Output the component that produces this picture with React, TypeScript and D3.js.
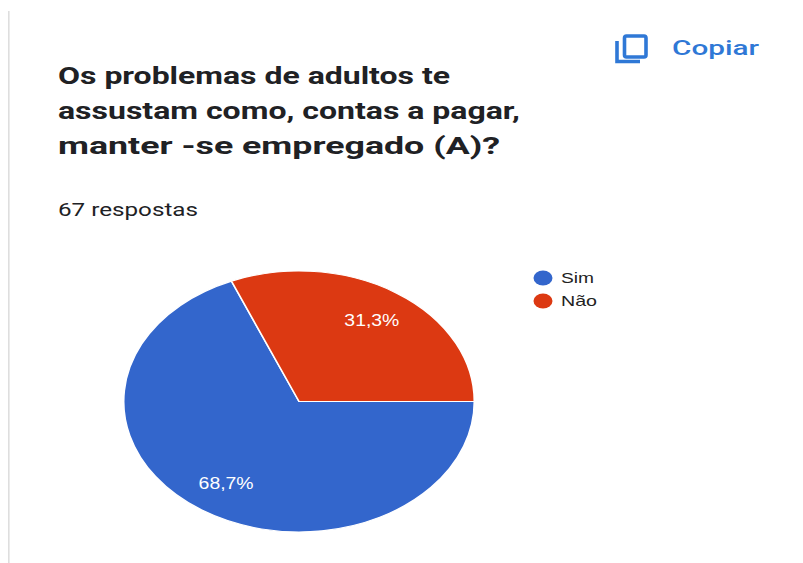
import React from "react";
import * as d3 from "d3";

const categories = ["Sim", "Não"];
const shares = [68.7, 31.3];
const sliceLabels = ["68,7%", "31,3%"];
const colors = ["#3366cc", "#dc3912"];
const titleLines = [
  "Os problemas de adultos te",
  "assustam como, contas a pagar,",
  "manter -se empregado (A)?",
];
const titleWidths = [392, 462, 442];
const legendWidths = [33, 36];
const responseCount = "67 respostas";

const WIDTH = 803;
const HEIGHT = 563;
const RADIUS = 130.5;
const X_STRETCH = 175.3 / 130.5;
const CENTER: [number, number] = [299, 401.5];
const FONT = "Roboto, 'Liberation Sans', sans-serif";
const LABEL_FONT = "'Liberation Sans', Arial, sans-serif";

export default function App() {
  const color = d3.scaleOrdinal<string, string>().domain(categories).range(colors);
  // First slice starts at three o'clock and runs clockwise.
  const pie = d3
    .pie<number>()
    .sort(null)
    .startAngle(Math.PI / 2)
    .endAngle(Math.PI / 2 + 2 * Math.PI);
  const arcs = pie(shares);
  const arc = d3.arc<d3.PieArcDatum<number>>().innerRadius(0).outerRadius(RADIUS);
  const labelArc = d3
    .arc<d3.PieArcDatum<number>>()
    .innerRadius(RADIUS * 0.75)
    .outerRadius(RADIUS * 0.75);

  return (
    <svg
      width={WIDTH}
      height={HEIGHT}
      viewBox={`0 0 ${WIDTH} ${HEIGHT}`}
      style={{ position: "absolute", left: 0, top: 0, background: "#fff" }}
    >
      <rect x={8} y={11} width={1.6} height={552} fill="#dedede" />

      {/* Copy action */}
      <g fill="none" stroke="#2f78d6" strokeWidth={3.6}>
        <rect x={624.5} y={36} width={21.5} height={21} rx={2} />
        <path d="M617 41 V61.5 H640" />
      </g>
      <text x={672} y={55} fontFamily={FONT} fontSize={21} fontWeight={500} fill="#2f78d6" textLength={87} lengthAdjust="spacingAndGlyphs">
        Copiar
      </text>

      {/* Question */}
      {titleLines.map((line, i) => (
        <text
          key={line}
          x={58}
          y={84 + i * 35}
          fontFamily={FONT}
          fontSize={24}
          fontWeight={700}
          fill="#202124"
          textLength={titleWidths[i]}
          lengthAdjust="spacingAndGlyphs"
        >
          {line}
        </text>
      ))}
      <text x={58} y={216} fontFamily={FONT} fontSize={18} fill="#202124" textLength={140} lengthAdjust="spacingAndGlyphs">
        {responseCount}
      </text>

      {/* Pie, widened horizontally */}
      <g transform={`translate(${CENTER[0]},${CENTER[1]}) scale(${X_STRETCH},1)`}>
        {arcs.map((d, i) => (
          <path
            key={categories[i]}
            d={arc(d) ?? ""}
            fill={color(categories[i])}
            stroke="#fff"
            strokeWidth={1.2}
          />
        ))}
      </g>
      {arcs.map((d, i) => {
        const [x, y] = labelArc.centroid(d);
        return (
          <text
            key={sliceLabels[i]}
            x={CENTER[0] + x * X_STRETCH - 27.5}
            y={CENTER[1] + y + 6}
            fontFamily={LABEL_FONT}
            fontSize={16}
            fill="#fff"
            textLength={55}
            lengthAdjust="spacingAndGlyphs"
          >
            {sliceLabels[i]}
          </text>
        );
      })}

      {/* Legend */}
      {categories.map((c, i) => (
        <g key={c}>
          <ellipse cx={543} cy={278 + i * 23} rx={9.5} ry={7.5} fill={color(c)} />
          <text
            x={561}
            y={283 + i * 23}
            fontFamily={LABEL_FONT}
            fontSize={15}
            fill="#222222"
            textLength={legendWidths[i]}
            lengthAdjust="spacingAndGlyphs"
          >
            {c}
          </text>
        </g>
      ))}
    </svg>
  );
}
